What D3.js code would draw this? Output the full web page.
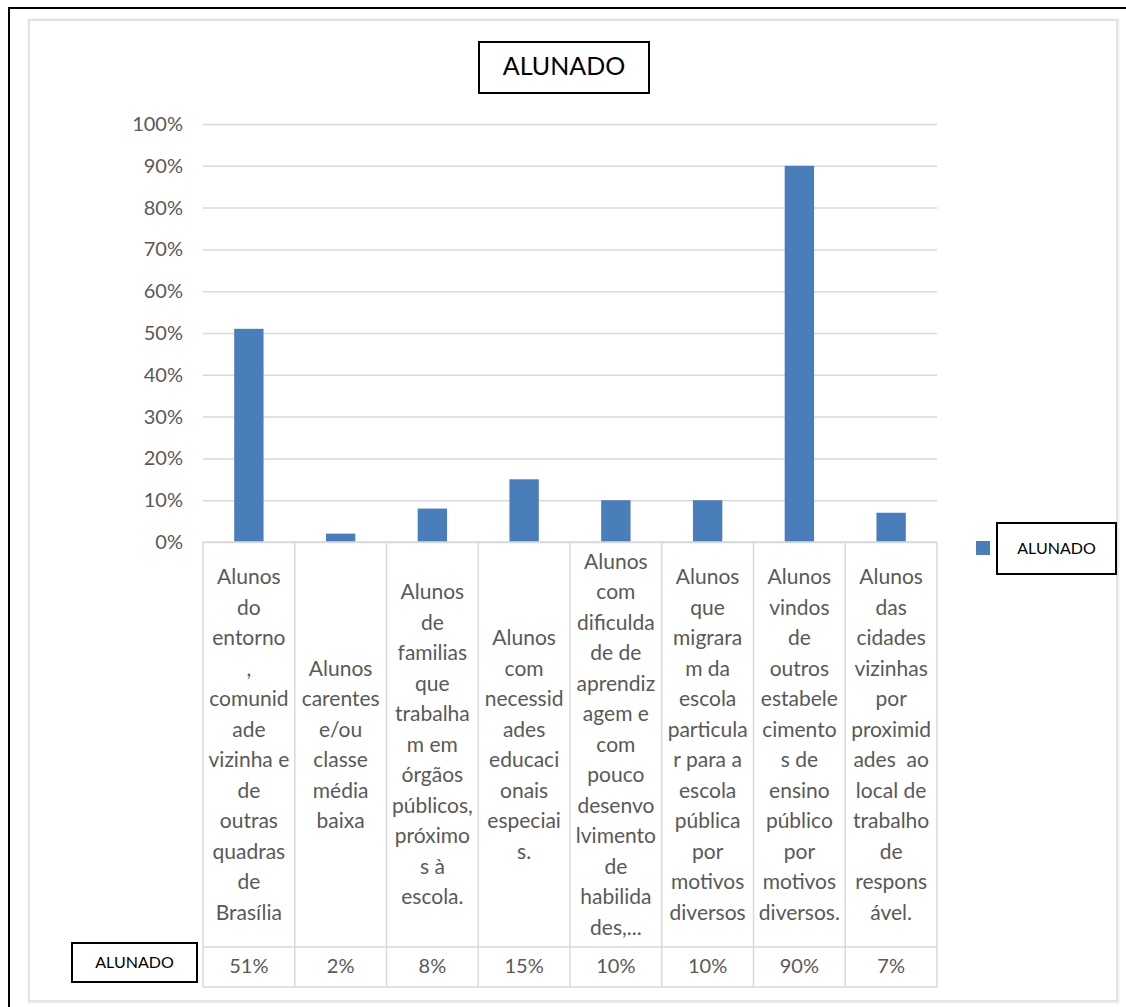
<!DOCTYPE html>
<html>
<head>
<meta charset="utf-8">
<script src="https://cdn.jsdelivr.net/npm/d3@7"></script>
<style>
  html, body { margin: 0; padding: 0; background: #fff; }
  svg { display: block; }
</style>
</head>
<body>
<svg id="chart" width="1126" height="1007"></svg>
<script>
// Series name, used by the title, legend and table row header
const seriesName = "ALUNADO";

// Category labels, already wrapped into the lines shown in the table header
const categories = [
  ["Alunos", "do", "entorno", ",", "comunid", "ade", "vizinha e", "de", "outras", "quadras", "de", "Brasília"],
  ["Alunos", "carentes", "e/ou", "classe", "média", "baixa"],
  ["Alunos", "de", "familias", "que", "trabalha", "m em", "órgãos", "públicos,", "próximo", "s à", "escola."],
  ["Alunos", "com", "necessid", "ades", "educaci", "onais", "especiai", "s."],
  ["Alunos", "com", "dificulda", "de de", "aprendiz", "agem e", "com", "pouco", "desenvo", "lvimento", "de", "habilida", "des,..."],
  ["Alunos", "que", "migrara", "m da", "escola", "particula", "r para a", "escola", "pública", "por", "motivos", "diversos"],
  ["Alunos", "vindos", "de", "outros", "estabele", "cimento", "s de", "ensino", "público", "por", "motivos", "diversos."],
  ["Alunos", "das", "cidades", "vizinhas", "por", "proximid", "ades  ao", "local de", "trabalho", "de", "respons", "ável."]
];

// Share of students in each category
const values = [0.51, 0.02, 0.08, 0.15, 0.10, 0.10, 0.90, 0.07];

// Value axis ticks
const yTicks = [0, 0.1, 0.2, 0.3, 0.4, 0.5, 0.6, 0.7, 0.8, 0.9, 1.0];

const svg = d3.select("#chart");
const font = "Lato, 'Open Sans', sans-serif";
const textGray = "#595959";
const gridGray = "#d9d9d9";
const barBlue = "#4a7ebb";

// Plot geometry
const plotLeft = 203, plotRight = 937, plotTop = 124, plotBottom = 542;
const headerBottom = 947, tableBottom = 987;

// Outer page border (left and top edges only)
svg.append("path")
  .attr("d", "M9,1007 V8 H1126")
  .attr("fill", "none").attr("stroke", "#000").attr("stroke-width", 2);

// Chart area frame with soft shadow
svg.append("rect")
  .attr("x", 30).attr("y", 21).attr("width", 1087).attr("height", 980)
  .attr("fill", "none").attr("stroke", "#f1f1f1").attr("stroke-width", 5);
svg.append("rect")
  .attr("x", 29).attr("y", 20).attr("width", 1088).attr("height", 981)
  .attr("fill", "#fff").attr("stroke", "#dcdcdc").attr("stroke-width", 1.5);

const x = d3.scaleBand()
  .domain(d3.range(categories.length))
  .range([plotLeft, plotRight])
  .padding(0);

const y = d3.scaleLinear().domain([0, 1]).range([plotBottom, plotTop]);

// Gridlines and percentage tick labels
const yAxis = d3.axisLeft(y)
  .tickValues(yTicks)
  .tickFormat(d3.format(".0%"))
  .tickSize(-(plotRight - plotLeft))
  .tickPadding(20);

const gy = svg.append("g")
  .attr("transform", `translate(${plotLeft},0)`)
  .call(yAxis);
gy.select(".domain").remove();
gy.selectAll(".tick line").attr("stroke", gridGray).attr("stroke-width", 1.5);
gy.selectAll(".tick text")
  .attr("fill", textGray)
  .style("font-family", font)
  .style("font-size", "20px");

// Bars
const barW = x.bandwidth() * 0.32;
svg.append("g").selectAll("rect")
  .data(values)
  .join("rect")
  .attr("x", (d, i) => x(i) + (x.bandwidth() - barW) / 2)
  .attr("y", d => y(d))
  .attr("width", barW)
  .attr("height", d => y(0) - y(d))
  .attr("fill", barBlue);

// Data table grid
const table = svg.append("g")
  .attr("stroke", gridGray).attr("stroke-width", 1.5).attr("fill", "none");
table.selectAll("line.v")
  .data(d3.range(categories.length + 1))
  .join("line")
  .attr("class", "v")
  .attr("x1", i => i < categories.length ? x(i) : plotRight)
  .attr("x2", i => i < categories.length ? x(i) : plotRight)
  .attr("y1", plotBottom).attr("y2", tableBottom);
table.append("line")
  .attr("x1", plotLeft).attr("x2", plotRight).attr("y1", headerBottom).attr("y2", headerBottom);
table.append("line")
  .attr("x1", plotLeft).attr("x2", plotRight).attr("y1", tableBottom).attr("y2", tableBottom);
table.append("line")
  .attr("x1", plotLeft).attr("x2", plotRight).attr("y1", plotBottom).attr("y2", plotBottom);

// Category header text, vertically centred in the header row
const lineH = 30.5;
const headerMid = (plotBottom + headerBottom) / 2 + 2;
const cat = svg.append("g")
  .attr("fill", textGray)
  .style("font-family", font)
  .style("font-size", "21px")
  .attr("text-anchor", "middle");
categories.forEach((lines, i) => {
  const cx = x(i) + x.bandwidth() / 2;
  const y0 = headerMid - (lines.length - 1) * lineH / 2;
  const t = cat.append("text");
  lines.forEach((ln, k) => {
    t.append("tspan")
      .attr("x", cx)
      .attr("y", y0 + k * lineH)
      .attr("dominant-baseline", "middle")
      .style("white-space", "pre")
      .text(ln);
  });
});

// Value row
svg.append("g")
  .selectAll("text")
  .data(values)
  .join("text")
  .attr("x", (d, i) => x(i) + x.bandwidth() / 2)
  .attr("y", (headerBottom + tableBottom) / 2 + 1)
  .attr("text-anchor", "middle")
  .attr("dominant-baseline", "middle")
  .attr("fill", textGray)
  .style("font-family", font)
  .style("font-size", "20px")
  .text(d3.format(".0%"));

// Boxed labels drawn over the chart
function box(x0, y0, w, h, size) {
  const g = svg.append("g");
  g.append("rect")
    .attr("x", x0).attr("y", y0).attr("width", w).attr("height", h)
    .attr("fill", "#fff").attr("stroke", "#000").attr("stroke-width", 2);
  g.append("text")
    .attr("x", x0 + w / 2).attr("y", y0 + h / 2 + 1)
    .attr("text-anchor", "middle")
    .attr("dominant-baseline", "middle")
    .attr("fill", "#000")
    .style("font-family", font)
    .style("font-size", size + "px")
    .text(seriesName);
}

// Title
box(479, 42, 170, 51, 25);

// Legend key and label
svg.append("rect")
  .attr("x", 976).attr("y", 541).attr("width", 14).attr("height", 14)
  .attr("fill", barBlue);
box(997, 523, 119, 51, 16);

// Row header of the value row
box(72, 943, 125, 39, 16);
</script>
</body>
</html>
